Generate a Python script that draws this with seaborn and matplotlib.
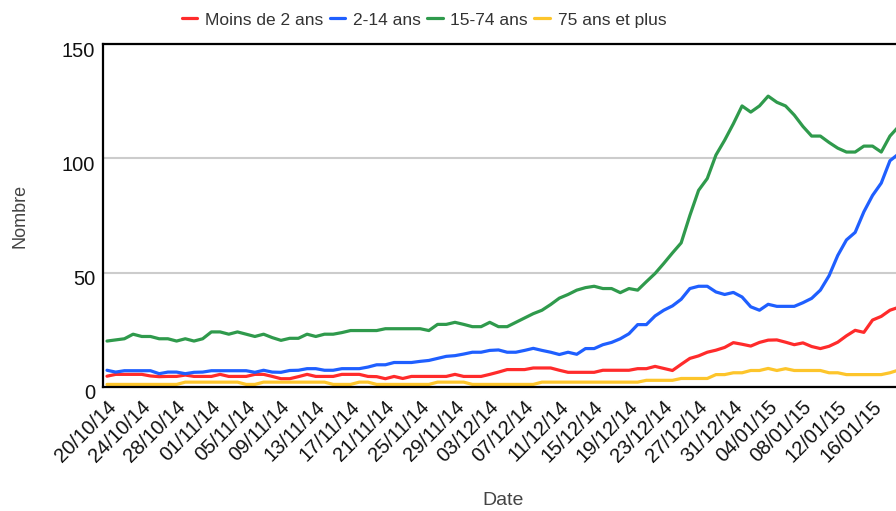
import matplotlib
matplotlib.use("Agg")
import matplotlib.pyplot as plt
import matplotlib.transforms as mtransforms
import pandas as pd
import seaborn as sns

# Nombre de cas par jour et par tranche d'âge
moins_2_ans = [4.6, 5.4, 5.4, 5.4, 5.4, 4.7, 4.4, 4.5, 4.5, 5.1,
               4.5, 4.5, 4.5, 5.4, 4.5, 4.5, 4.5, 5.4, 5.4, 4.5,
               3.5, 3.5, 4.4, 5.4, 4.5, 4.5, 4.5, 5.4, 5.4, 5.4,
               4.5, 4.4, 3.5, 4.5, 3.6, 4.5, 4.5, 4.5, 4.5, 4.5,
               5.4, 4.5, 4.5, 4.5, 5.4, 6.4, 7.5, 7.5, 7.5, 8.2,
               8.2, 8.2, 7.2, 6.3, 6.3, 6.3, 6.3, 7.2, 7.2, 7.2,
               7.2, 7.9, 7.9, 8.9, 8.0, 7.1, 9.8, 12.4, 13.5, 15.1,
               16.0, 17.2, 19.3, 18.6, 17.8, 19.4, 20.4, 20.5, 19.5, 18.4,
               19.2, 17.6, 16.7, 17.7, 19.5, 22.3, 24.7, 23.8, 29.2, 30.8,
               33.5, 34.8]
de_2_a_14 = [7.2, 6.4, 7.0, 7.0, 7.0, 7.0, 5.7, 6.4, 6.4, 5.7,
             6.3, 6.4, 7.0, 7.0, 7.0, 7.0, 7.0, 6.3, 7.2, 6.4,
             6.3, 7.1, 7.2, 7.9, 7.9, 7.2, 7.2, 7.9, 7.9, 7.9,
             8.6, 9.6, 9.6, 10.6, 10.6, 10.6, 11.1, 11.5, 12.4, 13.3,
             13.6, 14.3, 15.1, 15.1, 15.9, 16.1, 15.1, 15.1, 15.9, 16.8,
             15.9, 15.1, 14.1, 15.1, 14.2, 16.7, 16.7, 18.4, 19.4, 21.0,
             23.2, 27.2, 27.2, 31.0, 33.5, 35.4, 38.3, 43.0, 44.0, 44.0,
             41.5, 40.4, 41.3, 39.3, 35.0, 33.5, 36.1, 35.2, 35.2, 35.2,
             36.8, 38.7, 42.3, 48.6, 57.5, 64.3, 67.6, 76.6, 83.8, 89.2,
             99.0, 102.0]
de_15_a_74 = [20.0, 20.5, 21.0, 23.0, 22.0, 22.0, 21.0, 21.0, 20.0, 21.0,
              20.0, 21.0, 24.0, 24.0, 23.0, 24.0, 23.0, 22.0, 23.0, 21.5,
              20.3, 21.2, 21.2, 23.0, 22.0, 23.0, 23.0, 23.7, 24.6, 24.6,
              24.6, 24.6, 25.4, 25.4, 25.4, 25.4, 25.4, 24.6, 27.3, 27.3,
              28.2, 27.3, 26.3, 26.3, 28.2, 26.3, 26.3, 28.2, 30.1, 32.0,
              33.5, 36.0, 38.8, 40.4, 42.3, 43.4, 44.0, 43.0, 43.0, 41.2,
              43.0, 42.3, 46.0, 49.6, 54.0, 58.6, 63.0, 75.0, 86.0, 91.2,
              101.5, 108.0, 115.2, 123.0, 120.3, 123.0, 127.3, 124.6, 123.0, 119.0,
              114.0, 109.8, 109.8, 107.0, 104.5, 102.8, 102.8, 105.4, 105.4, 102.8,
              109.8, 114.0]
plus_75_ans = [1, 1, 1, 1, 1, 1, 1, 1, 1, 2,
               2, 2, 2, 2, 2, 2, 1, 1, 2, 2,
               2, 2, 2, 2, 2, 2, 1, 1, 1, 2,
               2, 1, 1, 1, 1, 1, 1, 1, 2, 2,
               2, 2, 1, 1, 1, 1, 1, 1, 1, 1,
               2, 2, 2, 2, 2, 2, 2, 2, 2, 2,
               2, 2, 2.8, 2.8, 2.8, 2.8, 3.6, 3.6, 3.6, 3.6,
               5.3, 5.3, 6.1, 6.1, 7.1, 7.1, 8.0, 7.1, 7.9, 7.1,
               7.1, 7.1, 7.1, 6.1, 6.1, 5.3, 5.3, 5.3, 5.3, 5.3,
               6.1, 7.3]

groupes = ["Moins de 2 ans", "2-14 ans", "15-74 ans", "75 ans et plus"]
couleurs = ["#ff2b2b", "#1f5fff", "#2f9a4c", "#fdc52b"]
dates = pd.date_range("2014-10-20", periods=len(moins_2_ans), freq="D")
ticks = pd.date_range("2014-10-20", "2015-01-16", freq="4D")

df = pd.concat([
    pd.DataFrame({"Date": dates, "Nombre": vals, "Groupe": g})
    for g, vals in zip(groupes, [moins_2_ans, de_2_a_14, de_15_a_74, plus_75_ans])
])

sns.set_style("white")
plt.rcParams["font.family"] = ["Liberation Sans", "DejaVu Sans"]

fig = plt.figure(figsize=(8.96, 5.11), dpi=100)
ax = fig.add_axes([103 / 896, 1 - 386.7 / 511, 800 / 896, (386.7 - 44.3) / 511])

sns.lineplot(data=df, x="Date", y="Nombre", hue="Groupe", hue_order=groupes,
             palette=couleurs, linewidth=2.3, ax=ax)

ax.set_ylim(0, 150)
ax.set_yticks([0, 50, 100, 150])
ax.set_xlim(dates[0] - pd.Timedelta(hours=11), dates[0] + pd.Timedelta(days=91.5))
ax.set_xticks(ticks)
ax.set_xticklabels([t.strftime("%d/%m/%y") for t in ticks])

ax.grid(axis="y", color="#cccccc", linewidth=1.5)
ax.set_axisbelow(True)
for side in ["left", "bottom", "top"]:
    ax.spines[side].set_color("black")
    ax.spines[side].set_linewidth(1.6)
ax.spines["right"].set_visible(False)

ax.tick_params(axis="x", direction="inout", length=6, width=1.3, color="black",
               labelsize=14.5, labelcolor="#111111", pad=1)
ax.tick_params(axis="y", direction="out", length=2, width=1.3, color="black",
               labelsize=14.5, labelcolor="#111111", pad=3.5)
for lab in ax.get_xticklabels():
    lab.set_rotation(45)
    lab.set_ha("right")
    lab.set_va("center")
    lab.set_rotation_mode("anchor")
    lab.set_transform(lab.get_transform() +
                      mtransforms.ScaledTranslation(6 / 100, -12 / 100, fig.dpi_scale_trans))
for lab in ax.get_yticklabels():
    lab.set_transform(lab.get_transform() +
                      mtransforms.ScaledTranslation(0, -5 / 100, fig.dpi_scale_trans))

ax.set_xlabel("Date", fontsize=14, color="#444444")
ax.set_ylabel("Nombre", fontsize=13, color="#444444")
ax.xaxis.set_label_coords((503 - 103) / 800, -(500 - 386.7) / 342.4)
ax.xaxis.label.set_va("center")
ax.yaxis.set_label_coords(-(103 - 20) / 800, 0.5)
ax.yaxis.label.set_va("center")

sns.move_legend(ax, "center", bbox_to_anchor=(424 / 896, 1 - 20 / 511),
                bbox_transform=fig.transFigure, ncol=4, frameon=False, title=None,
                fontsize=12.5, handlelength=0.9, handletextpad=0.45,
                columnspacing=0.35, borderpad=0)
for t in ax.get_legend().get_texts():
    t.set_color("#333333")

fig.savefig("out.png", dpi=100)
